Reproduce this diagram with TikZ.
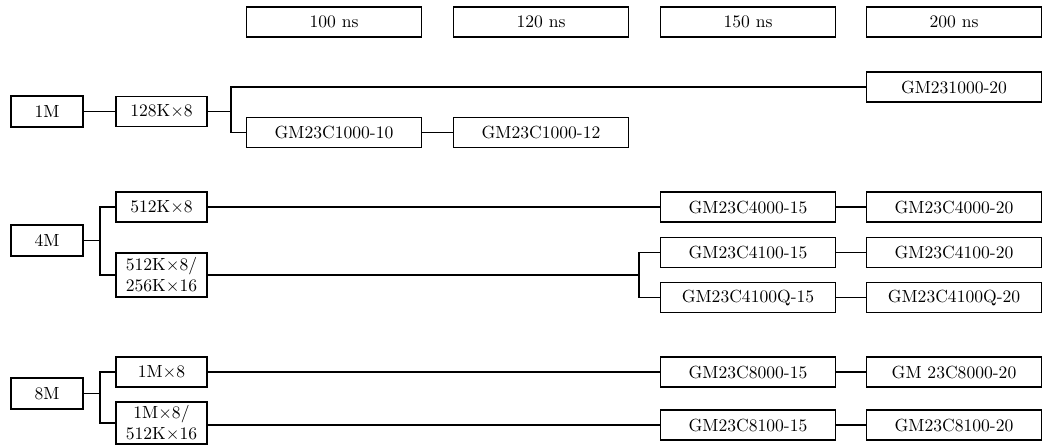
\documentclass[tikz,border=0pt]{standalone}
\usepackage{amsmath, amssymb}
\usepackage{tikz}

\tikzset{
  partbox/.style={draw, line width=0.8pt, minimum width=3.5cm, minimum height=0.6cm, inner sep=1pt},
  sizebox/.style={draw, line width=0.8pt, minimum width=1.44cm, minimum height=0.62cm, inner sep=1pt},
  orgbox/.style={draw, line width=0.8pt, minimum width=1.82cm, minimum height=0.6cm, inner sep=1pt, align=center},
  link/.style={line width=0.8pt}
}

\begin{document}
\begin{tikzpicture}[x=0.02cm, y=-0.02cm]
				\useasboundingbox (0,0) rectangle (1043,444);
				\node[partbox] (h100) at (334,22) {100 ns};
				\node[partbox] (h120) at (541,22) {120 ns};
				\node[partbox] (h150) at (748,22) {150 ns};
				\node[partbox] (h200) at (954,22) {200 ns};
				\node[sizebox] (m1) at (47,111.5) {1M};
				\node[orgbox] (t1) at (161.5,111.5) {128K$\times$8};
				\coordinate (b1) at (231,111.5);
				\node[partbox] (g1a) at (954,87) {GM231000-20};
				\node[partbox] (g1b) at (334,132.5) {GM23C1000-10};
				\node[partbox] (g1c) at (541,132.5) {GM23C1000-12};
				\node[sizebox] (m4) at (47,240.5) {4M};
				\coordinate (b4) at (100,240.5);
				\node[orgbox] (t4a) at (161.5,207) {512K$\times$8};
				\node[orgbox, minimum height=0.88cm] (t4b) at (161.5,275) {512K$\times$8/\\256K$\times$16};
				\node[partbox] (g4a) at (748,207) {GM23C4000-15};
				\node[partbox] (g4b) at (954,207) {GM23C4000-20};
				\coordinate (c4) at (639,275);
				\node[partbox] (g4c) at (748,252.5) {GM23C4100-15};
				\node[partbox] (g4d) at (954,252.5) {GM23C4100-20};
				\node[partbox] (g4e) at (748,297.5) {GM23C4100Q-15};
				\node[partbox] (g4f) at (954,297.5) {GM23C4100Q-20};
				\node[sizebox] (m8) at (47,393.5) {8M};
				\coordinate (b8) at (100,393.5);
				\node[orgbox] (t8a) at (161.5,372) {1M$\times$8};
				\node[orgbox, minimum height=0.84cm] (t8b) at (161.5,423) {1M$\times$8/\\512K$\times$16};
				\node[partbox] (g8a) at (748,372) {GM23C8000-15};
				\node[partbox] (g8b) at (954,372) {GM 23C8000-20};
				\node[partbox] (g8c) at (748,425) {GM23C8100-15};
				\node[partbox] (g8d) at (954,425) {GM23C8100-20};
				\draw[link] (m1)--(t1)--(b1);
				\draw[link] (b1) |- (g1a);
				\draw[link] (b1) |- (g1b);
				\draw[link] (g1b)--(g1c);
				\draw[link] (m4)--(b4);
				\draw[link] (b4) |- (t4a);
				\draw[link] (b4) |- (t4b);
				\draw[link] (t4a)--(g4a)--(g4b);
				\draw[link] (t4b)--(c4);
				\draw[link] (c4) |- (g4c);
				\draw[link] (c4) |- (g4e);
				\draw[link] (g4c)--(g4d);
				\draw[link] (g4e)--(g4f);
				\draw[link] (m8)--(b8);
				\draw[link] (b8) |- (t8a);
				\draw[link] (b8) |- (t8b);
				\draw[link] (t8a)--(g8a)--(g8b);
				\draw[link] (g8c.west -| t8b.east)--(g8c.west);
				\draw[link] (g8c)--(g8d);
			\end{tikzpicture}
\end{document}
